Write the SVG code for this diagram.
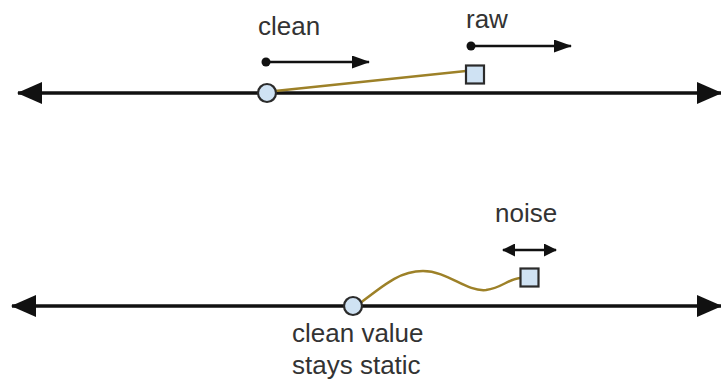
<svg xmlns="http://www.w3.org/2000/svg" width="721" height="381" viewBox="0 0 721 381">
  <defs>
    <style>
      .axis { stroke: #111; stroke-width: 3.5; fill: none; }
      .move { stroke: #111; stroke-width: 2.5; fill: none; }
      .link { stroke: #9d8128; stroke-width: 2.5; fill: none; }
      .pt { fill: #cfe2f3; stroke: #2b2b2b; stroke-width: 2.2; }
      .label { font-family: "Liberation Sans", Arial, sans-serif; font-size: 26px; fill: #333; }
      .dot { fill: #111; }
    </style>
    <marker id="bigHead" viewBox="0 0 25 22" refX="24" refY="11" markerWidth="25" markerHeight="22" markerUnits="userSpaceOnUse" orient="auto-start-reverse">
      <path d="M0,0 L25,11 L0,22 Z" fill="#111"/>
    </marker>
    <marker id="smallHead" viewBox="0 0 18 13" refX="17" refY="6.5" markerWidth="18" markerHeight="13" markerUnits="userSpaceOnUse" orient="auto-start-reverse">
      <path d="M0,0 L18,6.5 L0,13 Z" fill="#111"/>
    </marker>
    <marker id="tinyHead" viewBox="0 0 13 13" refX="12" refY="6.5" markerWidth="13" markerHeight="13" markerUnits="userSpaceOnUse" orient="auto-start-reverse">
      <path d="M0,0 L13,6.5 L0,13 Z" fill="#111"/>
    </marker>
  </defs>

  <!-- number lines and motion arrows -->
  <g id="connectors">
    <line class="axis" x1="18" y1="93" x2="721" y2="93" marker-start="url(#bigHead)" marker-end="url(#bigHead)"/>
    <line class="axis" x1="12" y1="306" x2="721" y2="306" marker-start="url(#bigHead)" marker-end="url(#bigHead)"/>

    <circle class="dot" cx="266" cy="62" r="4.5"/>
    <line class="move" x1="266" y1="62" x2="369" y2="62" marker-end="url(#smallHead)"/>

    <circle class="dot" cx="471" cy="46" r="4.5"/>
    <line class="move" x1="471" y1="46" x2="571" y2="46" marker-end="url(#smallHead)"/>

    <line class="move" x1="503" y1="250" x2="556" y2="250" marker-start="url(#tinyHead)" marker-end="url(#tinyHead)"/>

    <line class="link" x1="275" y1="91" x2="466" y2="71"/>
    <path class="link" d="M359,304 C385,284 400,271 423,271 C448,271 466,292 486,290 C502,288 508,279 520,278"/>
  </g>

  <!-- top row: clean and raw values -->
  <g id="clean-top">
    <circle class="pt" cx="267" cy="93" r="9"/>
    <text class="label" x="258" y="35">clean</text>
  </g>
  <g id="raw-top">
    <rect class="pt" x="466" y="65.5" width="18" height="18"/>
    <text class="label" x="466" y="28">raw</text>
  </g>

  <!-- bottom row: static clean value with noisy raw value -->
  <g id="clean-bottom">
    <circle class="pt" cx="353" cy="306" r="9"/>
    <text class="label" x="292" y="342">clean value</text>
    <text class="label" x="292" y="374">stays static</text>
  </g>
  <g id="raw-bottom">
    <rect class="pt" x="520.5" y="268.5" width="18" height="18"/>
    <text class="label" x="495" y="222">noise</text>
  </g>
</svg>
